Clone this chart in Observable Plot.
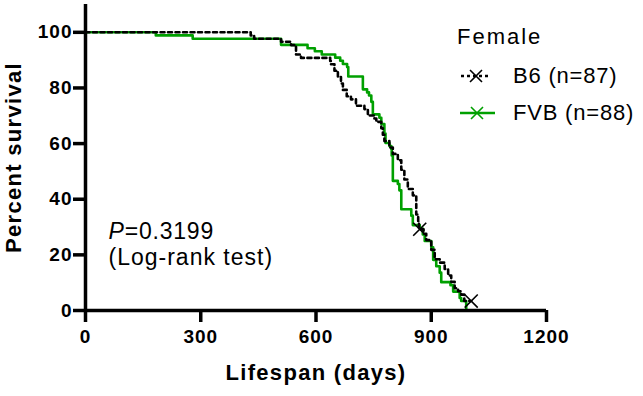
<!DOCTYPE html>
<html><head><meta charset="utf-8">
<script src="https://cdn.jsdelivr.net/npm/d3@7"></script>
<script src="https://cdn.jsdelivr.net/npm/@observablehq/plot@0.6"></script>
<style>
body{margin:0;background:#fff;}
#wrap{position:relative;width:643px;height:396px;font-family:"Liberation Sans",Arial,sans-serif;}
.leg{position:absolute;font-size:22px;color:#000;white-space:nowrap;line-height:24px;letter-spacing:0.8px;}
</style></head><body><div id="wrap"></div>
<script>
// ---- data ----
const seriesNames = ["B6", "FVB"];
const seriesLabels = ["B6 (n=87)", "FVB (n=88)"];
const legendTitle = "Female";
const b6Days = [0,430,439,509,535,548,561,637,639,648,657,665,670,680,691,704,726,735,752,757,770,774,778,791,800,813,822,830,839,852,861,866,868,880,887,900,909,922,935,944,952,961,970,978,986,1004];
const b6Pct  = [100,98.9,97.7,96.6,95.4,92.0,90.8,89.7,88.5,86.2,83.9,81.6,79.3,77.0,75.9,73.6,72.4,70.1,69.0,67.8,65.5,63.2,60.9,58.6,56.3,54.0,50.6,47.1,43.7,41.4,34.5,32.2,29.2,27.6,25.3,21.8,18.4,17.2,14.9,12.6,10.3,8.0,6.9,5.7,3.4,3.4];
const b6CensorDays = [870, 1004];
const b6CensorPct = [29.2, 3.4];
const fvbDays = [0,183,279,509,578,597,615,650,663,670,681,684,722,733,738,744,748,765,770,778,781,791,796,797,800,813,817,822,848,852,870,878,883,900,905,913,922,926,950,957,974,978,991];
const fvbPct  = [100,98.9,97.7,95.5,94.3,93.2,92.0,90.9,89.8,88.6,87.5,84.1,79.5,78.4,77.3,75.0,70.5,69.3,67.0,63.6,60.2,59.1,58.0,55.7,46.6,45.5,43.2,36.4,34.1,30.7,29.5,27.3,25.0,22.7,18.2,15.9,13.6,10.2,9.1,6.8,4.5,3.4,0];
const xTicks = [0, 300, 600, 900, 1200];
const yTicks = [0, 20, 40, 60, 80, 100];
const xLabel = "Lifespan (days)";
const yLabel = "Percent survival";
const pText = "P=0.3199";
const testText = "(Log-rank test)";

// ---- build ----
const b6 = b6Days.map((d, i) => ({day: d, pct: b6Pct[i]}));
const fvb = fvbDays.map((d, i) => ({day: d, pct: fvbPct[i]}));
const b6Cens = b6CensorDays.map((d, i) => ({day: d, pct: b6CensorPct[i]}));
const colors = {B6: "#000000", FVB: "#00a000"};
const font = "Liberation Sans, Arial, sans-serif";

const chart = Plot.plot({
  width: 643, height: 396,
  marginLeft: 85, marginRight: 97, marginTop: 4, marginBottom: 86,
  style: {fontFamily: font, background: "white", color: "black"},
  x: {domain: [0, 1200]},
  y: {domain: [0, 110]},
  marks: [
    Plot.line(fvb, {x: "day", y: "pct", curve: "step-after", stroke: colors.FVB, strokeWidth: 2.6}),
    Plot.line(b6, {x: "day", y: "pct", curve: "step-after", stroke: colors.B6, strokeWidth: 2.6, strokeDasharray: "4,3.5"}),
    Plot.dot(b6Cens, {x: "day", y: "pct", symbol: "times", r: 6, stroke: colors.B6, strokeWidth: 1.6}),
    Plot.ruleX([0], {y1: 0, y2: 110, strokeWidth: 3.5}),
    Plot.ruleY([0], {x1: 0, x2: 1200, strokeWidth: 3.5}),
    Plot.axisX({ticks: xTicks, tickSize: 12, strokeWidth: 3.5, tickPadding: 7, fontSize: 19, fontWeight: "bold", tickFormat: d => `${d}`, label: null}),
    Plot.axisY({ticks: yTicks, tickSize: 12, strokeWidth: 3.5, tickPadding: 1, fontSize: 19, fontWeight: "bold", tickFormat: d => `${d}`, label: null}),
    Plot.text([xLabel], {frameAnchor: "bottom", dy: 69, fontSize: 22, fontWeight: "bold"}),
    Plot.text([yLabel], {frameAnchor: "left", dx: -72, rotate: -90, textAnchor: "middle", fontSize: 22, fontWeight: "bold"}),
    Plot.text([pText], {frameAnchor: "bottom-left", dx: 23, dy: -72, textAnchor: "start", fontSize: 23}),
    Plot.text([testText], {frameAnchor: "bottom-left", dx: 23, dy: -46, textAnchor: "start", fontSize: 23})
  ]
});

chart.querySelectorAll("text").forEach(t => {
  const c = t.textContent;
  if (c === pText) {
    t.innerHTML = '<tspan font-style="italic">P</tspan>' + pText.slice(1);
    t.setAttribute("letter-spacing", "0.8");
  } else if (c === testText) {
    t.setAttribute("letter-spacing", "1");
  } else if (c === xLabel || c === yLabel) {
    t.setAttribute("letter-spacing", "1.3");
  } else if (/^\d+$/.test(c)) {
    t.setAttribute("letter-spacing", "1");
  }
});

const wrap = document.getElementById("wrap");
wrap.appendChild(chart);

// ---- legend (HTML overlay) ----
const title = document.createElement("div");
title.className = "leg";
title.style.left = "457px"; title.style.top = "25px";
title.style.letterSpacing = "2px";
title.textContent = legendTitle;
wrap.appendChild(title);

const rowCenters = [76, 113];
const ns = "http://www.w3.org/2000/svg";
seriesNames.forEach((name, i) => {
  const cy = rowCenters[i];
  const s = document.createElementNS(ns, "svg");
  s.setAttribute("width", 40); s.setAttribute("height", 20);
  s.style.position = "absolute";
  s.style.left = "458px"; s.style.top = (cy - 10) + "px";
  const ln = document.createElementNS(ns, "line");
  ln.setAttribute("x1", name === "B6" ? 3 : 2); ln.setAttribute("x2", name === "B6" ? 33 : 37);
  ln.setAttribute("y1", 10); ln.setAttribute("y2", 10);
  ln.setAttribute("stroke", colors[name]); ln.setAttribute("stroke-width", name === "B6" ? 2.6 : 2.4);
  if (name === "B6") ln.setAttribute("stroke-dasharray", "3,3");
  s.appendChild(ln);
  const cx = name === "B6" ? 18 : 19;
  const p = document.createElementNS(ns, "path");
  p.setAttribute("d", `M${cx-6},4L${cx+6},16M${cx-6},16L${cx+6},4`);
  p.setAttribute("stroke", colors[name]); p.setAttribute("stroke-width", 1.6); p.setAttribute("fill", "none");
  s.appendChild(p);
  wrap.appendChild(s);
  const lab = document.createElement("div");
  lab.className = "leg";
  lab.style.left = "513px"; lab.style.top = (cy - 12) + "px";
  lab.textContent = seriesLabels[i];
  wrap.appendChild(lab);
});
</script>
</body></html>
